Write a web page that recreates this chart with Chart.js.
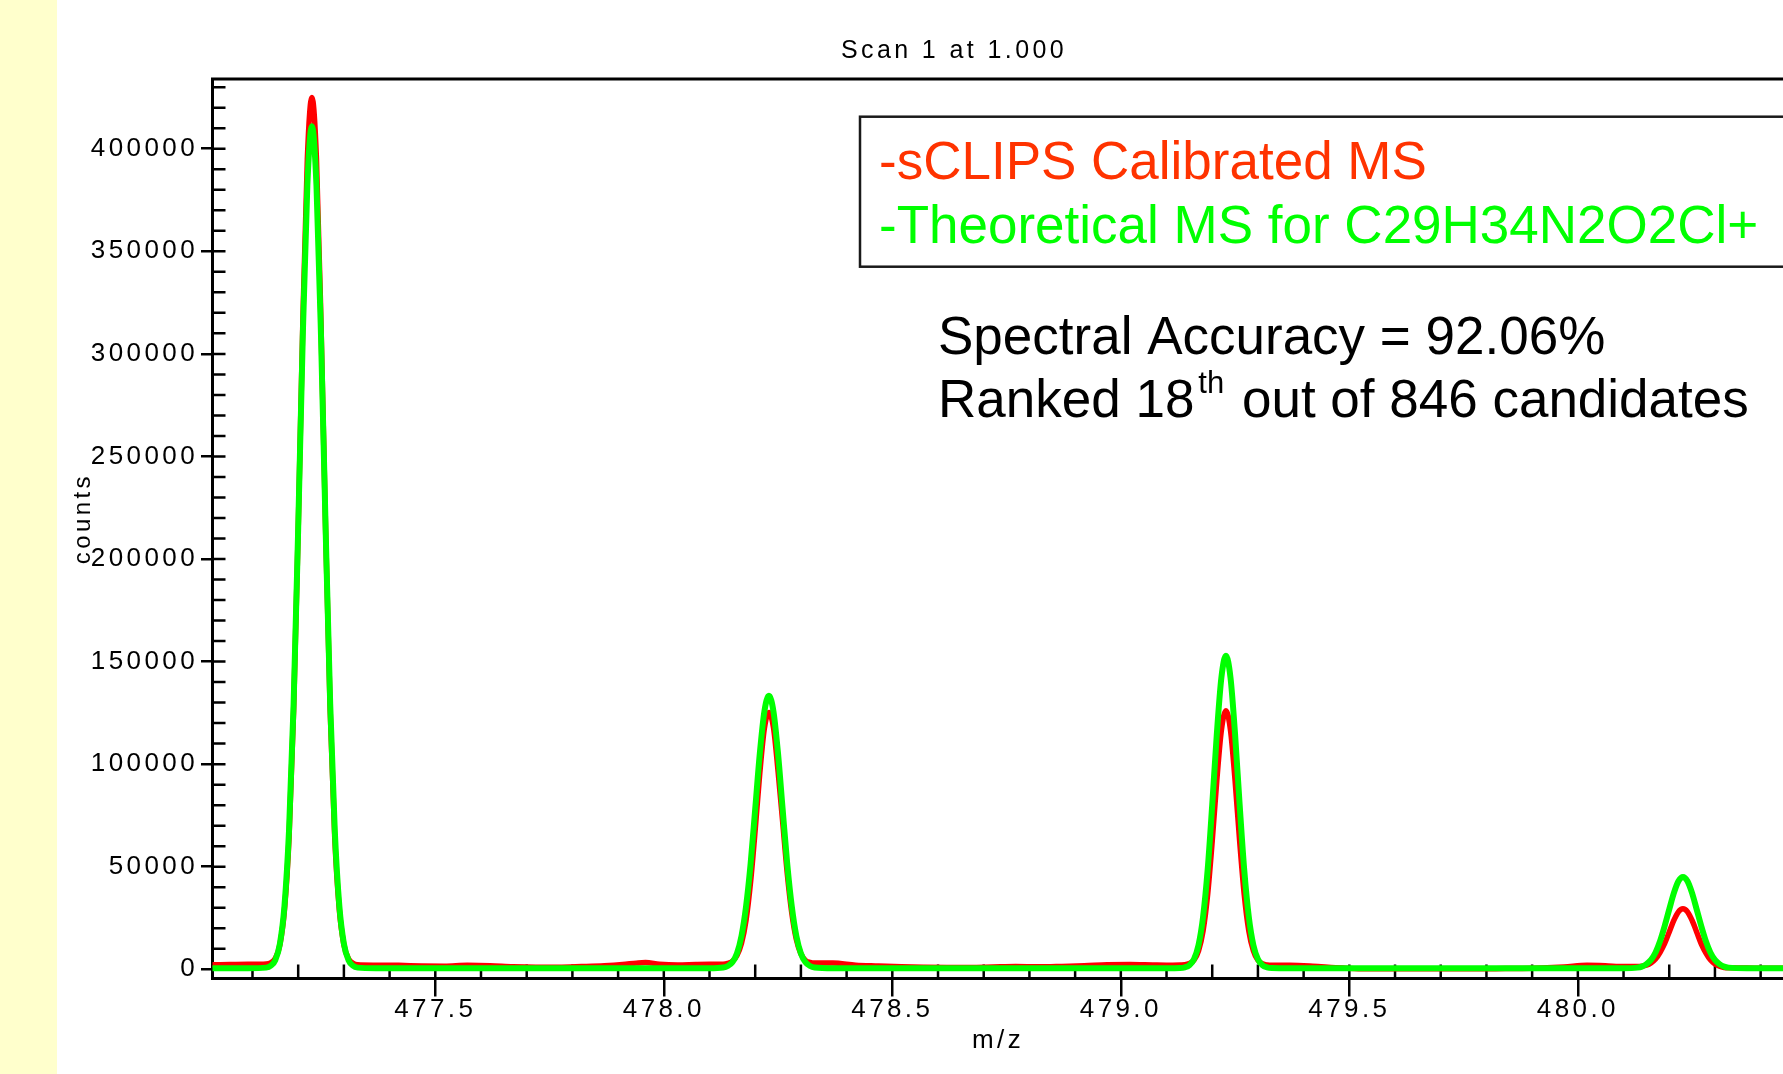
<!DOCTYPE html>
<html>
<head>
<meta charset="utf-8">
<title>Scan 1 at 1.000</title>
<script src="https://cdn.jsdelivr.net/npm/chart.js@4.4.1/dist/chart.umd.min.js"></script>
<style>
  html, body { margin: 0; padding: 0; width: 1783px; height: 1074px; overflow: hidden; background: #fff; }
  #band { position: absolute; left: 0; top: 0; width: 57px; height: 1074px; background: #ffffcc; }
  #spectrum { position: absolute; left: 57px; top: 0; }
</style>
</head>
<body>
<div id="band"></div>
<canvas id="spectrum" width="1794" height="1074"></canvas>
<script>
// m/z sampling points, shared by both traces
const mz = [
  477.01, 477.05, 477.09,
  477.13, 477.14, 477.15, 477.16, 477.17, 477.18, 477.19, 477.20, 477.21, 477.22, 477.23,
  477.24, 477.25, 477.26, 477.27, 477.28, 477.29, 477.30, 477.31, 477.32, 477.33,
  477.37, 477.42, 477.47, 477.52, 477.57, 477.62, 477.67, 477.72, 477.77, 477.82, 477.87,
  477.91, 477.94, 477.96, 477.99, 478.03, 478.07, 478.10,
  478.13, 478.14, 478.15, 478.16, 478.17, 478.18, 478.19, 478.20, 478.21, 478.22, 478.23,
  478.24, 478.25, 478.26, 478.27, 478.28, 478.29, 478.30, 478.31, 478.32, 478.33,
  478.37, 478.42, 478.47, 478.52, 478.57, 478.62, 478.67, 478.72, 478.77, 478.82, 478.87,
  478.92, 478.97, 479.02, 479.07, 479.10,
  479.13, 479.14, 479.15, 479.16, 479.17, 479.18, 479.19, 479.20, 479.21, 479.22, 479.23,
  479.24, 479.25, 479.26, 479.27, 479.28, 479.29, 479.30, 479.31, 479.32, 479.33,
  479.37, 479.42, 479.47, 479.52, 479.57, 479.62, 479.67, 479.72, 479.77, 479.82, 479.87,
  479.92, 479.97, 480.02, 480.06, 480.10,
  480.13, 480.14, 480.15, 480.16, 480.17, 480.18, 480.19, 480.20, 480.21, 480.22, 480.23,
  480.24, 480.25, 480.26, 480.27, 480.28, 480.29, 480.30, 480.31, 480.32, 480.33,
  480.37, 480.41, 480.45,
];

// sCLIPS calibrated (measured) counts
const countsMeasured = [
  2200, 2300, 2400,
  2600, 3200, 5400, 12000, 29000, 64000, 126000, 214000, 314000, 395000, 425000,
  395000, 314000, 214000, 126000, 64000, 29000, 12000, 5200, 2900, 2200,
  2000, 1900, 1600, 1500, 1900, 1700, 1200, 1000, 1000, 1300, 1700,
  2300, 3000, 3300, 2500, 2100, 2300, 2400,
  2500, 2900, 3900, 6700, 12600, 24000, 42800, 68000, 95500, 117300, 125200,
  117800, 96500, 72000, 47000, 27500, 14500, 7500, 4300, 3300, 3000,
  3000, 2000, 1600, 1200, 1000, 900, 900, 1100, 1300, 1200, 1400,
  1700, 2200, 2300, 2100, 2000,
  2100, 2200, 2800, 4500, 9000, 18800, 36500, 62500, 92000, 116500, 126000,
  116500, 92000, 62500, 36500, 18800, 9000, 4400, 2700, 2100, 1900,
  1900, 1500, 800, 300, 200, 200, 300, 300, 200, 300, 400,
  600, 1100, 1900, 1700, 1300,
  1300, 1500, 2000, 3100, 5000, 8300, 12600, 18200, 23800, 28000, 29500,
  28000, 23800, 18200, 12400, 8000, 4600, 2600, 1500, 900, 700,
  600, 500, 500,
];

// theoretical counts for C29H34N2O2Cl+
const countsTheory = [
  500, 500, 500,
  800, 1700, 4500, 12500, 31000, 68000, 129500, 215000, 308000, 382000, 411000,
  382000, 308000, 215000, 129500, 68000, 31000, 12500, 4500, 1700, 800,
  500, 500, 500, 500, 500, 500, 500, 500, 500, 500, 500,
  500, 500, 500, 500, 500, 500, 500,
  850, 1600, 3400, 7700, 16200, 30600, 51500, 78100, 105000, 125600, 133300,
  125600, 105000, 78100, 51500, 30600, 16200, 7700, 3400, 1600, 850,
  500, 500, 500, 500, 500, 500, 500, 500, 500, 500, 500,
  500, 500, 500, 500, 500,
  600, 950, 2000, 4900, 11800, 25600, 48500, 80200, 114500, 142100, 152800,
  142100, 114500, 80200, 48500, 25600, 11800, 4900, 2000, 950, 600,
  500, 500, 500, 500, 500, 500, 500, 500, 500, 500, 500,
  500, 500, 500, 500, 500,
  800, 1300, 2500, 4600, 8200, 13800, 21100, 29200, 37100, 42900, 45000,
  42900, 37100, 29200, 21100, 13800, 8200, 4600, 2500, 1300, 800,
  500, 500, 500,
];

const mzTicks = [477.5, 478.0, 478.5, 479.0, 479.5, 480.0];
const countTicks = [0, 50000, 100000, 150000, 200000, 250000, 300000, 350000, 400000];
const seriesLabels = ["-sCLIPS Calibrated MS", "-Theoretical MS for C29H34N2O2Cl+"];
const accuracyText = "Spectral Accuracy = 92.06%";
const rankText = ["Ranked 18", "th", " out of 846 candidates"];

const FONT = "'Liberation Sans', Arial, Helvetica, sans-serif";
const SPACING = "3.4px";

const toPoints = (ys) => ys.map((y, i) => ({ x: mz[i], y }));

// the plotting program spaces its axis text out
const spacedText = {
  id: "spacedText",
  beforeLayout: (chart) => { chart.ctx.letterSpacing = SPACING; },
  beforeDraw: (chart) => { chart.ctx.letterSpacing = SPACING; },
};

// top frame line and the inner tick marks (every 0.1 m/z, every 10000 counts)
const frame = {
  id: "frame",
  beforeDatasetsDraw(chart) {
    const { ctx, chartArea: a, scales: { x, y } } = chart;
    ctx.save();
    ctx.strokeStyle = "#000";
    ctx.lineWidth = 3;
    ctx.beginPath();
    ctx.moveTo(a.left - 1.5, a.top);
    ctx.lineTo(a.right + 2, a.top);
    ctx.stroke();

    ctx.lineWidth = 2.5;
    ctx.beginPath();
    for (let k = Math.ceil(x.min * 10); k / 10 <= x.max; k++) {
      const px = x.getPixelForValue(k / 10);
      ctx.moveTo(px, a.bottom);
      ctx.lineTo(px, a.bottom - 14);
    }
    for (let k = 0; k * 10000 <= y.max; k++) {
      const py = y.getPixelForValue(k * 10000);
      ctx.moveTo(a.left, py);
      ctx.lineTo(a.left + 13, py);
    }
    ctx.stroke();
    ctx.restore();
  },
  afterDraw(chart) {
    const { ctx } = chart;
    const colors = ["#ff3300", "#00ff00"];
    ctx.save();
    ctx.letterSpacing = "0px";

    // legend box
    ctx.strokeStyle = "#1a1a1a";
    ctx.lineWidth = 2.5;
    ctx.strokeRect(803, 116.7, 990, 150);
    ctx.font = `53px ${FONT}`;
    ctx.textAlign = "left";
    ctx.textBaseline = "alphabetic";
    chart.data.datasets.forEach((ds, i) => {
      ctx.fillStyle = colors[i];
      ctx.fillText(ds.label, 822, 178.5 + i * 64.3);
    });

    // accuracy note
    ctx.fillStyle = "#000";
    ctx.fillText(accuracyText, 881, 354);
    let x0 = 881;
    ctx.fillText(rankText[0], x0, 416.7);
    x0 += ctx.measureText(rankText[0]).width + 4;
    ctx.font = `31px ${FONT}`;
    ctx.fillText(rankText[1], x0, 393);
    x0 += ctx.measureText(rankText[1]).width + 3;
    ctx.font = `53px ${FONT}`;
    ctx.fillText(rankText[2], x0, 416.7);
    ctx.restore();
  },
};

Chart.defaults.color = "#000";
Chart.defaults.font.family = FONT;

new Chart("spectrum", {
  type: "line",
  data: {
    datasets: [
      {
        label: seriesLabels[0],
        data: toPoints(countsMeasured),
        borderColor: "#ff0000",
        borderWidth: 5.5,
        order: 1,
      },
      {
        label: seriesLabels[1],
        data: toPoints(countsTheory),
        borderColor: "#00ff00",
        borderWidth: 6,
        order: 0,
      },
    ],
  },
  options: {
    responsive: false,
    animation: false,
    layout: { padding: 0 },
    elements: {
      point: { radius: 0 },
      line: { cubicInterpolationMode: "monotone", fill: false, borderJoinStyle: "round", borderCapStyle: "round" },
    },
    plugins: {
      legend: { display: false },
      tooltip: { enabled: false },
      title: {
        display: true,
        text: "Scan 1 at 1.000",
        color: "#000",
        font: { family: FONT, size: 25, weight: "normal", lineHeight: 1.2 },
        padding: { top: 36, bottom: 13 },
      },
    },
    scales: {
      x: {
        type: "linear",
        min: 477.0125,
        max: 480.45,
        afterBuildTicks: (s) => { s.ticks = mzTicks.map((v) => ({ value: v })); },
        afterFit: (s) => { s.height = 95.5; },
        ticks: {
          font: { family: FONT, size: 26, lineHeight: 1.05 },
          padding: 0,
          maxRotation: 0,
          autoSkip: false,
          callback: (v) => Number(v).toFixed(1),
        },
        grid: { drawOnChartArea: false, drawTicks: true, tickLength: 18, color: "#000", lineWidth: 2.5 },
        border: { display: true, color: "#000", width: 3 },
        title: {
          display: true,
          text: "m/z",
          font: { family: FONT, size: 26, lineHeight: 1.05 },
          padding: { top: 3, bottom: 19.5 },
        },
      },
      y: {
        min: -4500,
        max: 434000,
        afterBuildTicks: (s) => { s.ticks = countTicks.map((v) => ({ value: v })); },
        afterFit: (s) => { s.width = 155.5; },
        ticks: {
          font: { family: FONT, size: 26 },
          padding: 3,
          callback: (v) => String(v),
        },
        grid: { drawOnChartArea: false, drawTicks: true, tickLength: 11.5, color: "#000", lineWidth: 2.5 },
        border: { display: true, color: "#000", width: 3 },
        title: {
          display: true,
          // leading spaces nudge the word up a little, as in the original
          text: "  counts",
          font: { family: FONT, size: 24, lineHeight: 1.2 },
          padding: { top: 11.6, bottom: 0 },
        },
      },
      // empty box that keeps the right margin of the original plot
      yRight: {
        axis: "y",
        position: "right",
        display: true,
        grid: { display: false },
        border: { display: false },
        ticks: { display: false },
        afterFit: (s) => { s.width = 67.5; },
      },
    },
  },
  plugins: [spacedText, frame],
});
</script>
</body>
</html>
